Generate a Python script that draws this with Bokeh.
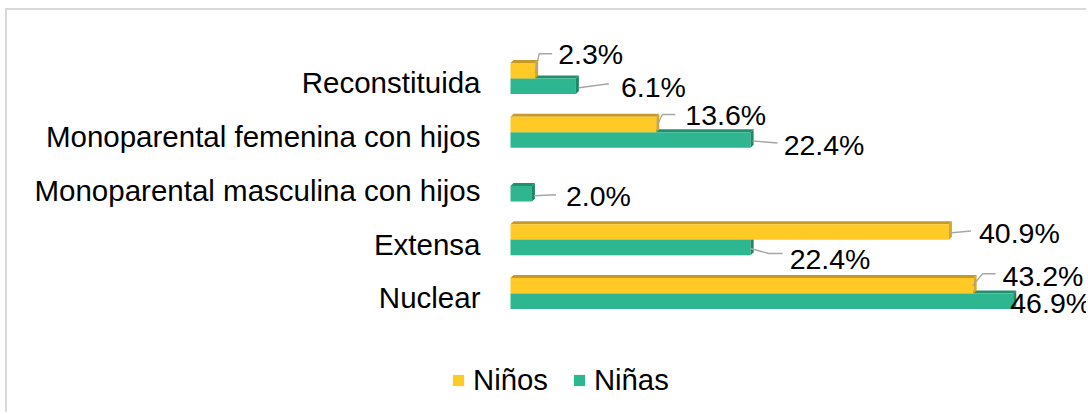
from bokeh.plotting import figure
from bokeh.models import Range1d, FixedTicker, Legend, LegendItem, ColumnDataSource
from bokeh.embed import file_html
from bokeh.resources import INLINE
from bokeh.core.properties import value

# ---------------- data ----------------
categories = ["Reconstituida", "Monoparental femenina con hijos",
              "Monoparental masculina con hijos", "Extensa", "Nuclear"]
ninos = [2.3, 13.6, 0.0, 40.9, 43.2]
ninas = [6.1, 22.4, 2.0, 22.4, 46.9]
series_names = ["Niños", "Niñas"]

# ---------------- label placement (px, from bar end / bar centre, down positive) ----------------
ninos_label_dx = [23, 29, 0, 30, 29]
ninos_label_dy = [-17, -10, 0, 1, -10]
ninas_label_dx = [45, 33, 34, 39, -3]
ninas_label_dy = [0.5, 5, 2, 11, 1.5]
ninos_leader = [[(0, 2), (4, -17), (17, -17)], [(1, 1), (6, -10), (19, -10)], None,
                [(0, 1), (22, -1)], [(-1, 0), (9, -12), (22, -12)]]
ninas_leader = [[(3, 1.5), (33, -2.5)], [(2, 1), (27, 3)], [(2, 2), (24, 1)],
                [(0, 1), (18, 6), (32, 6)], None]

# ---------------- layout / style ----------------
W, H = 1081, 404
FRAME_LEFT = 433         # canvas x where the frame starts
ZERO_X = 503             # canvas x of the 0 % baseline
PX_X = 10.72
PX_Y = 53.75
TOP_CENTER = 68          # canvas y of first category centre
FONT = "Liberation Sans"
YELLOW, YELLOW_TOP, YELLOW_SIDE = "#FFC926", "#C49B28", "#D6A823"
GREEN, GREEN_TOP, GREEN_SIDE = "#2DB68F", "#22906F", "#1F8767"
LEADER = "#A6A6A6"

n = len(categories)
ypos = [n - 1 - i for i in range(n)]
x_start = -(ZERO_X - FRAME_LEFT) / PX_X
x_end = (W - ZERO_X) / PX_X
y_end = (n - 1) + TOP_CENTER / PX_Y
y_start = -(H - TOP_CENTER - (n - 1) * PX_Y) / PX_Y

p = figure(width=W, height=H, x_range=Range1d(x_start, x_end), y_range=Range1d(y_start, y_end),
           output_backend="svg", toolbar_location=None, x_axis_location=None,
           min_border_left=FRAME_LEFT, min_border_right=0, min_border_top=0, min_border_bottom=0)
p.outline_line_color = None
p.grid.visible = False
p.background_fill_color = "white"
p.border_fill_color = "white"
p.styles = {"margin-left": "5px", "margin-top": "8px",
            "border-left": "2px solid #d9d9d9", "border-top": "2px solid #d9d9d9"}

bh = 15.5 / PX_Y
off = 7.75 / PX_Y
d_x = 3 / PX_X
d_y = 3 / PX_Y


def series(vals, yc_shift, fill, top_c, side_c, dx_list, dy_list, leaders):
    yc = [y + yc_shift for y in ypos]
    keep = [i for i, v in enumerate(vals) if v > 0]
    txs, tys, sxs, sys_ = [], [], [], []
    for i in keep:
        v, c = vals[i], yc[i]
        top, bot = c + bh / 2, c - bh / 2
        txs.append([0, d_x, v + d_x, v]); tys.append([top, top + d_y, top + d_y, top])
        sxs.append([v, v + d_x, v + d_x, v]); sys_.append([top, top + d_y, bot + d_y, bot])
    p.patches(txs, tys, fill_color=top_c, line_color=None)
    r = p.hbar(y=[yc[i] for i in keep], right=[vals[i] for i in keep], left=0,
               height=bh, fill_color=fill, line_color=None)
    p.patches(sxs, sys_, fill_color=side_c, line_color=None)
    lxs, lys = [], []
    for i in keep:
        if leaders[i] is None:
            continue
        lxs.append([vals[i] + dx / PX_X for dx, dy in leaders[i]])
        lys.append([yc[i] - dy / PX_Y for dx, dy in leaders[i]])
    p.multi_line(lxs, lys, line_color=LEADER, line_width=1.3)
    src = ColumnDataSource(dict(
        x=[vals[i] + dx_list[i] / PX_X for i in keep],
        y=[yc[i] - dy_list[i] / PX_Y for i in keep],
        t=[f"{vals[i]:.1f}%" for i in keep]))
    p.text(x="x", y="y", text="t", source=src, text_font=value(FONT),
           text_font_size="28.5px", text_baseline="middle", text_align="left",
           text_color="#000000")
    return r


r_g = series(ninas, -off, GREEN, GREEN_TOP, GREEN_SIDE, ninas_label_dx, ninas_label_dy, ninas_leader)
r_y = series(ninos, off, YELLOW, YELLOW_TOP, YELLOW_SIDE, ninos_label_dx, ninos_label_dy, ninos_leader)

tick_pos = [round(y - 4.5 / PX_Y, 4) for y in ypos]
ax = p.yaxis[0]
ax.ticker = FixedTicker(ticks=tick_pos)
ax.major_label_overrides = {t: c for t, c in zip(tick_pos, categories)}
ax.axis_line_color = None
ax.major_tick_line_color = None
ax.minor_tick_line_color = None
ax.major_tick_out = 0
ax.major_tick_in = 0
ax.major_label_standoff = -(ZERO_X - FRAME_LEFT - 30)
ax.major_label_text_font = FONT
ax.major_label_text_font_size = "29.5px"
ax.major_label_text_color = "#000000"

legend = Legend(items=[LegendItem(label=series_names[0], renderers=[r_y]),
                       LegendItem(label=series_names[1], renderers=[r_g])],
                orientation="horizontal", location=(11, 17),
                glyph_width=14, glyph_height=14, label_standoff=8, spacing=24,
                padding=0, margin=0, border_line_color=None, background_fill_alpha=0,
                label_text_font=FONT, label_text_font_size="29.3px", label_text_color="#000000")
p.add_layout(legend, "center")

open("out.html", "w").write(file_html(p, INLINE))
